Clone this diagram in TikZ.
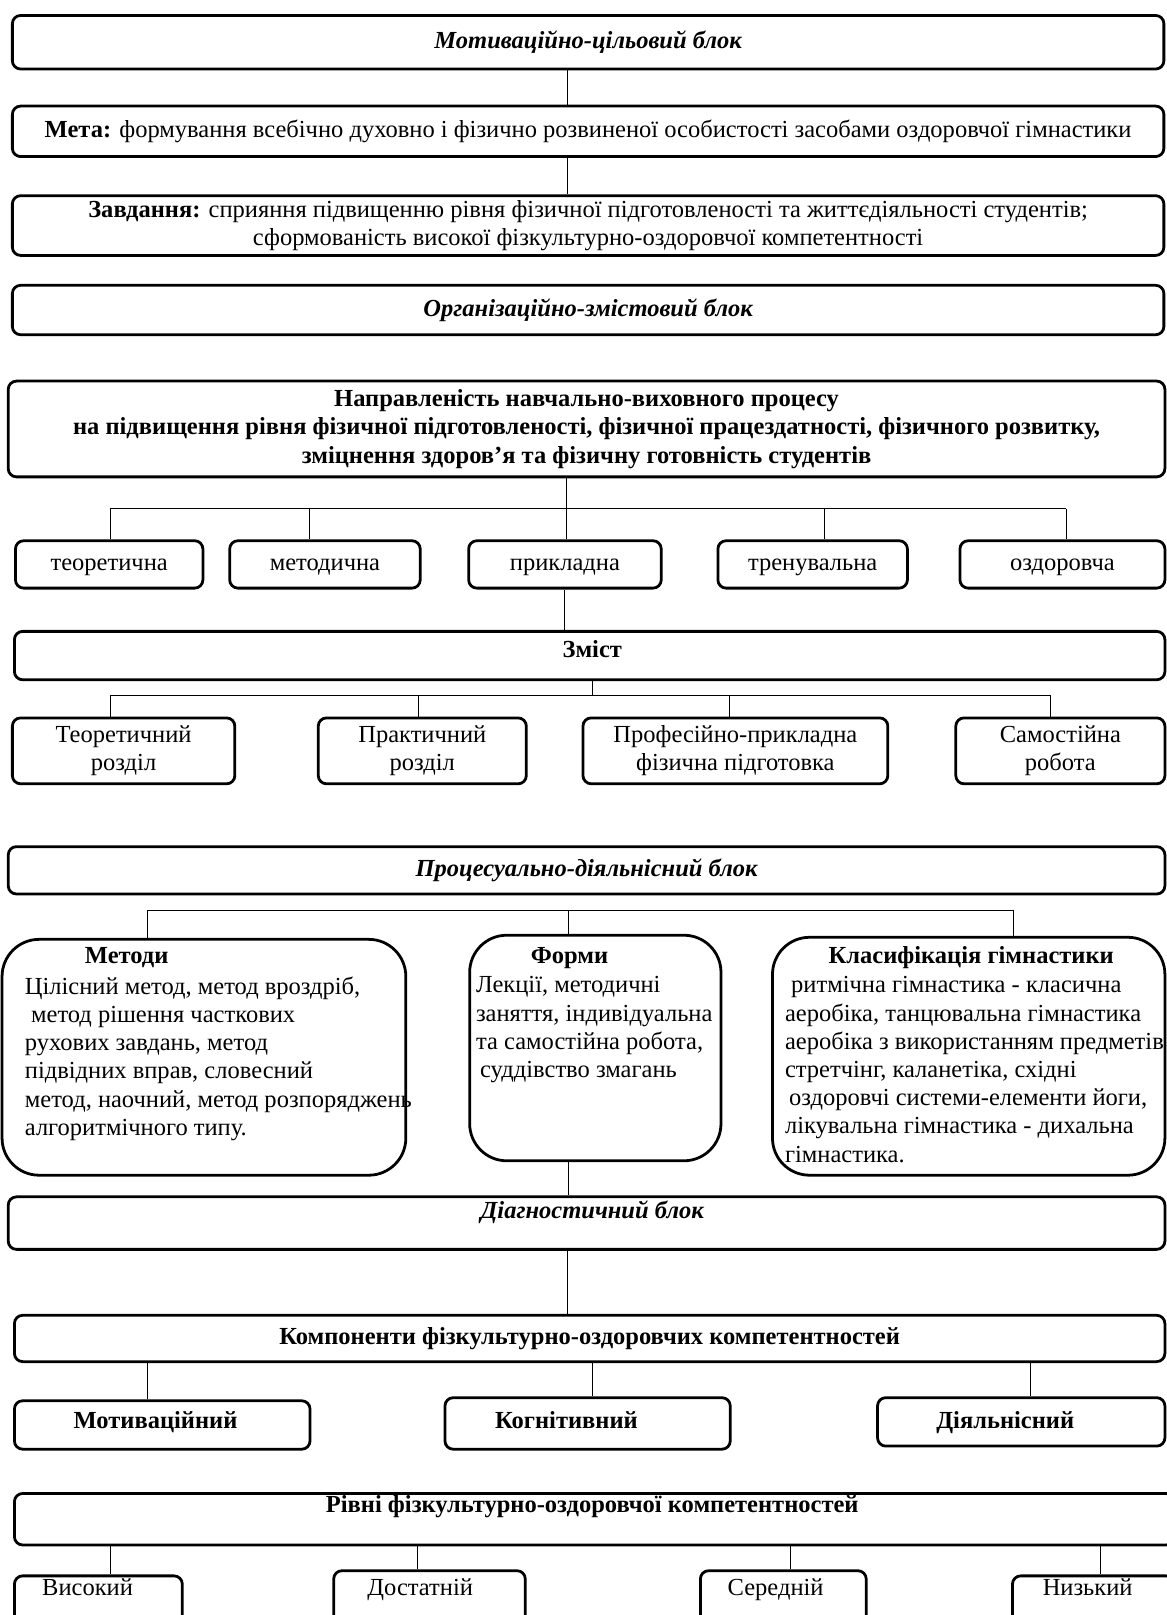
\documentclass[tikz,border=0pt]{standalone}
\usepackage{fontspec}
\setmainfont{Liberation Serif}
\newcommand\myfs{\fontsize{23.8}{27.4}\selectfont}
\tikzset{
  box/.style={draw, line width=2.7pt, rounded corners=8pt, inner sep=2pt, align=center, font=\myfs},
  sl/.style={text height=17pt, text depth=5pt},
  rbox/.style={draw, line width=2.7pt, rounded corners=36pt},
  conn/.style={line width=0.9pt},
  lbl/.style={inner sep=0pt, font=\myfs},
  body/.style={inner sep=0pt, align=left, anchor=north west, font=\myfs},
}
\begin{document}
\begin{tikzpicture}[x=1pt,y=-1pt]
\useasboundingbox (0,0) rectangle (1133,1568);
\clip (0,0) rectangle (1133,1568);
% ---- Motivational block
\node[box, sl, minimum width=1118pt, minimum height=52pt] (b1) at (571,41) {\bfseries\itshape Мотиваційно-цільовий блок};
\node[box, sl, minimum width=1118pt, minimum height=49pt] (b2) at (571,127.5) {\textbf{Мета:} формування всебічно духовно і фізично розвиненої особистості засобами оздоровчої гімнастики};
\node[box, minimum width=1118pt, minimum height=58pt] (b3) at (571,219) {\textbf{Завдання:} сприяння підвищенню рівня фізичної підготовленості та життєдіяльності студентів;\\ сформованість високої фізкультурно-оздоровчої компетентності};
\draw[conn] ([xshift=-20pt]b1.south) -- ([xshift=-20pt]b2.north);
\draw[conn] ([xshift=-20pt]b2.south) -- ([xshift=-20pt]b3.north);
% ---- Organisational block
\node[box, sl, minimum width=1118pt, minimum height=48pt] (b4) at (571,301) {\bfseries\itshape Організаційно-змістовий блок};
\node[box, minimum width=1123pt, minimum height=93pt] (b5) at (569.5,416.5) {\bfseries Направленість навчально-виховного процесу\\ \bfseries на підвищення рівня фізичної підготовленості, фізичної працездатності, фізичного розвитку,\\ \bfseries зміцнення здоров’я та фізичну готовність студентів};
\node[box, sl, minimum width=182pt, minimum height=46pt] (t1) at (106,548) {теоретична};
\node[box, sl, minimum width=185pt, minimum height=46pt] (t2) at (315.5,548) {методична};
\node[box, sl, minimum width=187pt, minimum height=46pt] (t3) at (548.5,548) {прикладна};
\node[box, sl, minimum width=184pt, minimum height=46pt] (t4) at (789,548) {тренувальна};
\node[box, sl, minimum width=199pt, minimum height=46pt] (t5) at (1031.5,548) {оздоровча};
\coordinate (j1) at (550,494);
\coordinate (bl1) at (107,494);
\coordinate (br1) at (1035,494);
\coordinate (d12) at (300,494);
\coordinate (d14) at (800,494);
\draw[conn] (j1 |- b5.south) -- (j1 |- t3.north);
\draw[conn] (bl1) -- (br1);
\draw[conn] (bl1) -- (bl1 |- t1.north);
\draw[conn] (d12) -- (d12 |- t2.north);
\draw[conn] (d14) -- (d14 |- t4.north);
\draw[conn] (br1) -- (br1 |- t5.north);
\node[box, sl, minimum width=1117pt, minimum height=47pt] (z) at (572.5,636.5) {};
\node[lbl] (zt) at (575,630) {\bfseries Зміст};
\draw[conn] (t3.south) -- (t3.south |- z.north);
\node[box, minimum width=216pt, minimum height=64pt] (r1) at (120,729) {Теоретичний\\ розділ};
\node[box, minimum width=202pt, minimum height=64pt] (r2) at (410,729) {Практичний\\ розділ};
\node[box, minimum width=296pt, minimum height=64pt] (r3) at (714,729) {Професійно-прикладна\\ фізична підготовка};
\node[box, minimum width=203pt, minimum height=64pt] (r4) at (1029.5,729) {Самостійна\\ робота};
\coordinate (j2) at (575,675);
\coordinate (bl2) at (107,675);
\coordinate (br2) at (1020,675);
\coordinate (d22) at (406,675);
\coordinate (d23) at (708,675);
\draw[conn] (j2 |- z.south) -- (j2);
\draw[conn] (bl2) -- (br2);
\draw[conn] (bl2) -- (bl2 |- r1.north);
\draw[conn] (d22) -- (d22 |- r2.north);
\draw[conn] (d23) -- (d23 |- r3.north);
\draw[conn] (br2) -- (br2 |- r4.north);
% ---- Process block
\node[box, sl, minimum width=1123pt, minimum height=46pt] (p) at (569.5,845) {\bfseries\itshape Процесуально-діяльнісний блок};
\node[rbox, minimum width=392pt, minimum height=229pt] (m) at (198,1026.5) {};
\node[rbox, minimum width=244pt, minimum height=219pt] (f) at (578,1017.5) {};
\node[rbox, minimum width=381pt, minimum height=231pt] (c) at (940.5,1025.5) {};
\coordinate (bl3) at (143,884);
\coordinate (br3) at (984,884);
\coordinate (j3) at (552,884);
\draw[conn] (bl3) -- (br3);
\draw[conn] (bl3) -- (bl3 |- m.north);
\draw[conn] (j3) -- (j3 |- f.north);
\draw[conn] (br3) -- (br3 |- c.north);
\node[lbl] (mt) at (123,930) {\bfseries Методи};
\node[lbl] (ft) at (553,930) {\bfseries Форми};
\node[lbl] (ct) at (943,930) {\bfseries Класифікація гімнастики};
\node[body] (mb) at (24,948) {Цілісний метод, метод вроздріб,\\ \hspace*{6pt}метод рішення часткових\\ рухових завдань, метод\\ підвідних вправ, словесний\\ метод, наочний, метод розпоряджень\\ алгоритмічного типу.};
\node[body] (fb) at (462,948) {Лекції, методичні\\ заняття, індивідуальна\\ та самостійна робота,\\ \hspace*{4pt}суддівство змагань};
\node[body] (cb) at (762,948) {\hspace*{6pt}ритмічна гімнастика - класична\\ аеробіка, танцювальна гімнастика\\ аеробіка з використанням предметів\\ стретчінг, каланетіка, східні\\ \hspace*{4pt}оздоровчі системи-елементи йоги,\\ лікувальна гімнастика - дихальна\\ гімнастика.};
% ---- Diagnostic block
\node[box, minimum width=1123pt, minimum height=51pt] (d) at (569.5,1187.5) {};
\node[lbl] (dt) at (575,1177) {\bfseries\itshape Діагностичний блок};
\draw[conn] (j3 |- f.south) -- (j3 |- d.north);
\node[box, sl, minimum width=1117pt, minimum height=45pt] (k) at (572.5,1299.5) {\bfseries Компоненти фізкультурно-оздоровчих компетентностей};
\draw[conn] ([xshift=-18.5pt]d.south) -- ([xshift=-18.5pt]d.south |- k.north);
\node[box, minimum width=287pt, minimum height=47pt] (k1) at (157.5,1383.5) {};
\node[box, minimum width=277pt, minimum height=50pt] (k2) at (570.5,1382) {};
\node[box, minimum width=279pt, minimum height=47pt] (k3) at (991.5,1380.5) {};
\node[lbl, sl] (k1t) at (151,1381) {\bfseries Мотиваційний};
\node[lbl, sl] (k2t) at (550,1381) {\bfseries Когнітивний};
\node[lbl, sl] (k3t) at (976,1381) {\bfseries Діяльнісний};
\coordinate (e1) at (143,1340);
\coordinate (e2) at (575,1340);
\coordinate (e3) at (1000,1340);
\draw[conn] (e1 |- k.south) -- (e1 |- k1.north);
\draw[conn] (e2 |- k.south) -- (e2 |- k2.north);
\draw[conn] (e3 |- k.south) -- (e3 |- k3.north);
\node[box, minimum width=1126pt, minimum height=50pt] (l) at (577,1475) {};
\node[lbl] (lt) at (575,1463) {\bfseries Рівні фізкультурно-оздоровчої компетентностей};
\node[box, minimum width=163pt, minimum height=60pt] (v1) at (95.5,1560) {};
\node[box, minimum width=186pt, minimum height=65pt] (v2) at (417,1557.5) {};
\node[box, minimum width=161pt, minimum height=65pt] (v3) at (760.5,1557.5) {};
\node[box, minimum width=157pt, minimum height=60pt] (v4) at (1061.5,1560) {};
\node[lbl, sl] (v1t) at (85,1543) {Високий};
\node[lbl, sl] (v2t) at (408,1543) {Достатній};
\node[lbl, sl] (v3t) at (753,1543) {Середній};
\node[lbl, sl] (v4t) at (1056,1543) {Низький};
\coordinate (g1) at (107,1510);
\coordinate (g2) at (405,1510);
\coordinate (g3) at (767,1510);
\coordinate (g4) at (1068,1510);
\draw[conn] (g1 |- l.south) -- (g1 |- v1.north);
\draw[conn] (g2 |- l.south) -- (g2 |- v2.north);
\draw[conn] (g3 |- l.south) -- (g3 |- v3.north);
\draw[conn] (g4 |- l.south) -- (g4 |- v4.north);
\end{tikzpicture}
\end{document}
